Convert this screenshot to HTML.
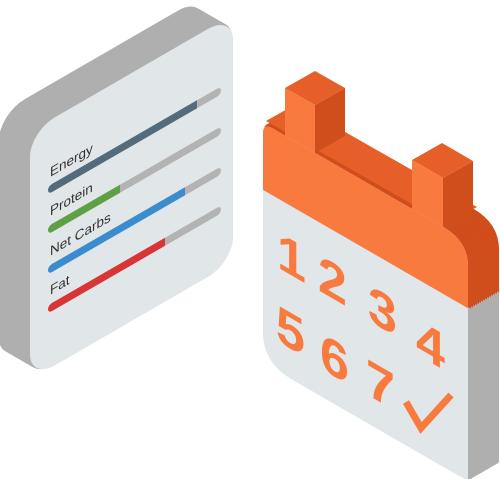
<!DOCTYPE html>
<html><head><meta charset="utf-8"><style>
html,body{margin:0;padding:0;background:#fff;}
svg{display:block;}
text{font-family:"Liberation Sans",sans-serif;}
</style></head><body>
<svg width="500" height="479" viewBox="0 0 500 479" xmlns="http://www.w3.org/2000/svg">
<defs>
<rect id="lc" x="30" y="149" width="203" height="248" rx="25" transform="skewY(-30)"/>
<path id="cb" transform="skewY(30)" d="M273,-29 H443 Q468,-29 468,-4 V207 Q468,211 464,211 H293 Q263,211 263,181 V-19 Q263,-29 273,-29 Z"/>
<path id="ch" transform="skewY(30)" d="M273,-29 H443 Q468,-29 468,-4 V38 H263 V-19 Q263,-29 273,-29 Z"/>
</defs>

<g fill="#afafaf" stroke="#afafaf" stroke-width="2">
<use href="#lc" transform="translate(-30,-17.3)"/>
<use href="#lc" transform="translate(-28,-16.2)"/>
<use href="#lc" transform="translate(-26,-15)"/>
<use href="#lc" transform="translate(-24,-13.9)"/>
<use href="#lc" transform="translate(-22,-12.7)"/>
<use href="#lc" transform="translate(-20,-11.5)"/>
<use href="#lc" transform="translate(-18,-10.4)"/>
<use href="#lc" transform="translate(-16,-9.2)"/>
<use href="#lc" transform="translate(-14,-8.1)"/>
<use href="#lc" transform="translate(-12,-6.9)"/>
<use href="#lc" transform="translate(-10,-5.8)"/>
<use href="#lc" transform="translate(-8,-4.6)"/>
<use href="#lc" transform="translate(-6,-3.5)"/>
<use href="#lc" transform="translate(-4,-2.3)"/>
<use href="#lc" transform="translate(-2,-1.2)"/>
</g>
<use href="#lc" fill="#e1e6e8"/>

<g stroke-linecap="round" stroke-width="8" fill="none">
<g transform="translate(52,188) skewY(-30)"><line x1="0" y1="0" x2="165" y2="0" stroke="#b3b3b3"/><line x1="0" y1="0" x2="145" y2="0" stroke="#536b7a" stroke-linecap="butt"/><line x1="0" y1="0" x2="1" y2="0" stroke="#536b7a"/></g>
<g transform="translate(52,228) skewY(-30)"><line x1="0" y1="0" x2="165" y2="0" stroke="#b3b3b3"/><line x1="0" y1="0" x2="68" y2="0" stroke="#5ea043" stroke-linecap="butt"/><line x1="0" y1="0" x2="1" y2="0" stroke="#5ea043"/></g>
<g transform="translate(52,268) skewY(-30)"><line x1="0" y1="0" x2="165" y2="0" stroke="#b3b3b3"/><line x1="0" y1="0" x2="133" y2="0" stroke="#3a8ccf" stroke-linecap="butt"/><line x1="0" y1="0" x2="1" y2="0" stroke="#3a8ccf"/></g>
<g transform="translate(52,307) skewY(-30)"><line x1="0" y1="0" x2="165" y2="0" stroke="#b3b3b3"/><line x1="0" y1="0" x2="113" y2="0" stroke="#d93535" stroke-linecap="butt"/><line x1="0" y1="0" x2="1" y2="0" stroke="#d93535"/></g>
</g>
<g fill="#333" font-size="13.5">
<text transform="translate(50,177) skewY(-30)">Energy</text>
<text transform="translate(50,216) skewY(-30)">Protein</text>
<text transform="translate(50,256) skewY(-30)">Net Carbs</text>
<text transform="translate(50,295) skewY(-30)">Fat</text>
</g>

<g fill="#afafaf" stroke="#afafaf" stroke-width="2">
<use href="#cb" transform="translate(30,-17.3)"/>
<use href="#cb" transform="translate(28,-16.2)"/>
<use href="#cb" transform="translate(26,-15)"/>
<use href="#cb" transform="translate(24,-13.9)"/>
<use href="#cb" transform="translate(22,-12.7)"/>
<use href="#cb" transform="translate(20,-11.5)"/>
<use href="#cb" transform="translate(18,-10.4)"/>
<use href="#cb" transform="translate(16,-9.2)"/>
<use href="#cb" transform="translate(14,-8.1)"/>
<use href="#cb" transform="translate(12,-6.9)"/>
<use href="#cb" transform="translate(10,-5.8)"/>
<use href="#cb" transform="translate(8,-4.6)"/>
<use href="#cb" transform="translate(6,-3.5)"/>
<use href="#cb" transform="translate(4,-2.3)"/>
<use href="#cb" transform="translate(2,-1.2)"/>
</g>
<g fill="#d04d1c" stroke="#d04d1c" stroke-width="2">
<use href="#ch" transform="translate(30,-17.3)"/>
<use href="#ch" transform="translate(28,-16.2)"/>
<use href="#ch" transform="translate(26,-15)"/>
<use href="#ch" transform="translate(24,-13.9)"/>
<use href="#ch" transform="translate(22,-12.7)"/>
<use href="#ch" transform="translate(20,-11.5)"/>
<use href="#ch" transform="translate(18,-10.4)"/>
<use href="#ch" transform="translate(16,-9.2)"/>
<use href="#ch" transform="translate(14,-8.1)"/>
<use href="#ch" transform="translate(12,-6.9)"/>
<use href="#ch" transform="translate(10,-5.8)"/>
<use href="#ch" transform="translate(8,-4.6)"/>
<use href="#ch" transform="translate(6,-3.5)"/>
<use href="#ch" transform="translate(4,-2.3)"/>
<use href="#ch" transform="translate(2,-1.2)"/>
</g>
<polygon points="266,121 447,224 477,207 296,104" fill="#e65f29"/>

<polygon points="315,105 345,88 345,136 315,153" fill="#d04d1c"/>
<polygon points="285,88 315,105 345,88 315,71" fill="#e65f29"/>
<polygon points="285,88 315,105 315,153 285,136" fill="#f87a3f"/>
<polygon points="443,178 473,161 473,210 443,227" fill="#d04d1c"/>
<polygon points="412,160 443,178 473,161 442,143" fill="#e65f29"/>
<polygon points="412,160 443,178 443,227 412,209" fill="#f87a3f"/>

<use href="#cb" fill="#e1e6e8"/>
<use href="#ch" fill="#f87a3f"/>

<g fill="#f87a3f" font-size="52" font-weight="bold">
<text transform="translate(277,267) skewY(30)">1</text>
<text transform="translate(318,290) skewY(30)">2</text>
<text transform="translate(368,320) skewY(30)">3</text>
<text transform="translate(416,354) skewY(30)">4</text>
<text transform="translate(276,340) skewY(30)">5</text>
<text transform="translate(320,368) skewY(30)">6</text>
<text transform="translate(366,394) skewY(30)">7</text>
</g>
<polyline points="406,402 421,428 451,395" fill="none" stroke="#f87a3f" stroke-width="7" stroke-linejoin="miter"/>
</svg>
</body></html>
